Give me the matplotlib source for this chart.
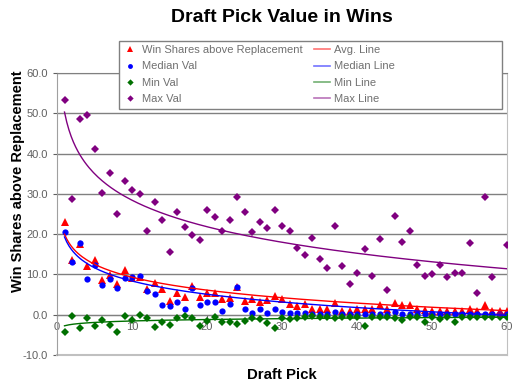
import numpy as np
import matplotlib
matplotlib.use("Agg")
import matplotlib.pyplot as plt
from matplotlib.lines import Line2D
from matplotlib.patches import Rectangle

plt.rcParams['font.family'] = ['Liberation Sans', 'DejaVu Sans']

picks = list(range(1, 61))

avg_val = [22.9, 13.5, 17.5, 12.0, 13.7, 8.7, 9.8, 7.6, 11.2, 9.0,
           9.3, 6.5, 7.8, 6.3, 3.5, 5.3, 4.3, 7.2, 4.3, 5.4,
           5.4, 4.0, 4.2, 7.0, 3.3, 4.0, 3.2, 3.7, 4.75, 3.8,
           2.7, 2.1, 2.7, 1.3, 1.3, 1.3, 2.8, 1.0, 0.8, 1.3,
           1.3, 1.3, 2.5, 1.3, 2.9, 2.5, 2.5, 1.3, 1.2, 0.8,
           0.8, 0.8, 0.8, 1.0, 1.3, 1.0, 2.3, 0.8, 0.8, 1.0]

median_val = [20.5, 13.2, 17.9, 8.9, 12.3, 7.4, 8.75, 6.75, 9.2, 9.25,
              9.6, 6.0, 5.2, 2.5, 2.1, 3.1, 1.5, 6.7, 2.5, 3.2,
              3.1, 1.0, 2.75, 6.8, 1.4, 0.4, 1.5, 0.4, 1.4, 0.6,
              0.4, 0.4, 0.4, 0.25, 0.25, 0.25, 0.6, 0.2, 0.2, 0.25,
              0.3, 0.2, 0.3, 0.2, 0.7, 0.3, 0.2, 0.3, 0.2, 0.2,
              0.3, 0.2, 0.2, 0.3, 0.2, 0.2, 0.3, 0.2, 0.0, 0.3]

min_val = [-4.3, -0.3, -3.2, -0.7, -2.75, -1.25, -2.6, -4.2, -0.4, -1.25,
           -0.1, -0.8, -3.0, -1.8, -2.6, -0.75, -0.4, -0.8, -2.7, -1.5,
           -0.6, -1.7, -1.8, -2.4, -1.5, -0.7, -1.1, -2.1, -3.2, -0.7,
           -1.0, -0.8, -0.6, -0.4, -0.6, -0.6, -0.8, -0.6, -0.6, -0.6,
           -2.9, -0.6, -0.6, -0.5, -0.7, -1.25, -0.6, -0.5, -1.7, -0.5,
           -1.1, -0.6, -1.8, -0.6, -0.5, -0.5, -0.5, -0.5, -0.6, -0.5]

max_val = [53.2, 28.7, 48.6, 49.6, 41.2, 30.2, 35.1, 25.1, 33.2, 30.9,
           29.9, 20.7, 28.0, 23.6, 15.5, 25.6, 21.7, 19.8, 18.5, 26.0,
           24.2, 20.7, 23.6, 29.2, 25.6, 20.5, 23.1, 21.6, 26.0, 21.9,
           20.7, 16.6, 14.8, 19.0, 13.9, 11.7, 21.9, 12.2, 7.7, 10.3,
           16.2, 9.5, 18.7, 6.2, 24.6, 18.0, 20.9, 12.4, 9.7, 10.1,
           12.4, 9.3, 10.3, 10.3, 17.7, 5.3, 29.2, 9.3, 0.1, 17.3]

# log trendlines y = a*ln(x) + b
trend_a = [-4.64, -4.75, 0.52, -9.5]
trend_b = [20.0, 19.3, -2.75, 50.3]

series = [
    ("Win Shares above Replacement", "Avg. Line", avg_val, "#ff0000", "^", 5.5),
    ("Median Val", "Median Line", median_val, "#0000ff", "o", 4.5),
    ("Min Val", "Min Line", min_val, "#007000", "D", 4.2),
    ("Max Val", "Max Line", max_val, "#800080", "D", 4.2),
]

fig = plt.figure(figsize=(5.12, 3.89), dpi=100)
ax = fig.add_axes([57 / 512, 1 - 355 / 389, 450 / 512, 282 / 389])

x = np.array(picks, dtype=float)
xs = np.linspace(1, 60, 200)
marker_handles = []
line_handles = []
for i, (name, lname, vals, color, mk, ms) in enumerate(series):
    ax.plot(x, vals, linestyle="none", marker=mk, markersize=ms,
            color=color, markeredgewidth=0, zorder=3)
    ax.plot(xs, trend_a[i] * np.log(xs) + trend_b[i], color=color,
            lw=1.0, zorder=4)
    marker_handles.append(Line2D([], [], linestyle="none", marker=mk,
                                 markersize=ms - 1, color=color,
                                 markeredgewidth=0, label=name))
    line_handles.append(Line2D([], [], color=color, lw=1.2, alpha=0.55,
                               label=lname))

ax.set_xlim(0, 60)
ax.set_ylim(-10, 60)
ax.set_xticks(range(0, 61, 10))
ax.set_yticks(range(-10, 61, 10))
ax.yaxis.set_major_formatter(matplotlib.ticker.FormatStrFormatter("%.1f"))
ax.tick_params(axis="both", labelsize=8, colors="#606060", length=3,
               width=0.8)
ax.tick_params(axis="x", pad=2)
ax.yaxis.grid(True, color="#808080", lw=1.0)
ax.set_axisbelow(True)

ax.spines["bottom"].set_position(("data", 0))
ax.spines["bottom"].set_color("#808080")
ax.spines["left"].set_color("#a0a0a0")
ax.spines["top"].set_color("#808080")
ax.spines["right"].set_color("#c0c0c0")
ax.axhline(-10, color="#c0c0c0", lw=1.5, clip_on=False)

fig.text(282 / 512, 1 - 18 / 389, "Draft Pick Value in Wins",
         ha="center", va="center", fontsize=14, fontweight="bold")
fig.text(18 / 512, 1 - 181 / 389, "Win Shares above Replacement",
         ha="center", va="center", rotation=90, fontsize=10.5,
         fontweight="bold")
fig.text(282 / 512, 1 - 375 / 389, "Draft Pick", ha="center", va="center",
         fontsize=10.8, fontweight="bold")

# legend box
fig.patches.append(Rectangle((119 / 512, 1 - 109 / 389), 383 / 512,
                             68 / 389, transform=fig.transFigure,
                             facecolor="white", edgecolor="#808080",
                             lw=1.0, zorder=5))
leg_kw = dict(loc="upper left", frameon=False, fontsize=8,
              borderpad=0, borderaxespad=0, handlelength=1.45,
              handletextpad=0.35, labelspacing=0.58, labelcolor="#707070")
fig.legend(handles=marker_handles,
           bbox_to_anchor=(122 / 512, 1 - 45 / 389), **leg_kw)
fig.legend(handles=line_handles,
           bbox_to_anchor=(314 / 512, 1 - 45 / 389), **leg_kw)

fig.savefig("out.png", dpi=100)
